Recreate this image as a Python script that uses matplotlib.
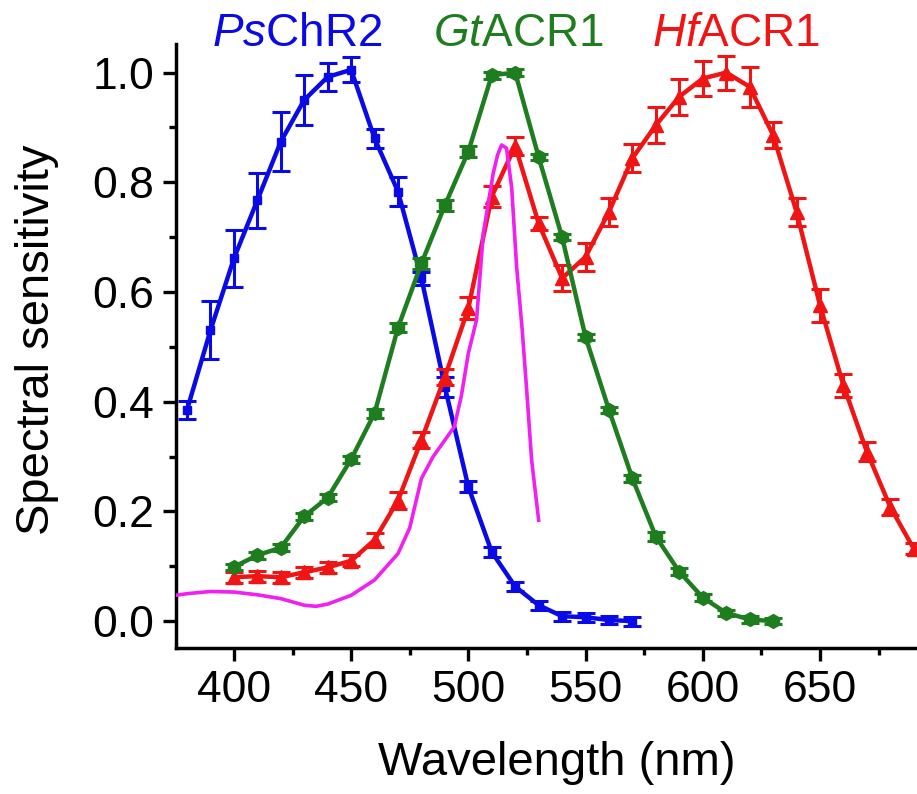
import numpy as np
import matplotlib
matplotlib.use("Agg")
import matplotlib.pyplot as plt

plt.rcParams['font.family'] = ['Liberation Sans', 'DejaVu Sans']
plt.rcParams['mathtext.fontset'] = 'custom'
plt.rcParams['mathtext.rm'] = 'Liberation Sans'
plt.rcParams['mathtext.it'] = 'Liberation Sans:italic'

# PsChR2 (blue)
ps_wl = [380, 390, 400, 410, 420, 430, 440, 450, 460, 470,
         480, 490, 500, 510, 520, 530, 540, 550, 560, 570]
ps_val = [0.385, 0.53, 0.661, 0.767, 0.874, 0.95, 0.992, 1.005, 0.88, 0.783,
          0.625, 0.427, 0.245, 0.126, 0.063, 0.029, 0.009, 0.007, 0.002, 0.0]
ps_err = [0.016, 0.053, 0.052, 0.05, 0.054, 0.045, 0.026, 0.023, 0.017, 0.027,
          0.012, 0.018, 0.01, 0.01, 0.008, 0.008, 0.008, 0.008, 0.008, 0.008]

# GtACR1 (green)
gt_wl = [400, 410, 420, 430, 440, 450, 460, 470, 480, 490, 500, 510, 520,
         530, 540, 550, 560, 570, 580, 590, 600, 610, 620, 630]
gt_val = [0.099, 0.12, 0.134, 0.191, 0.225, 0.295, 0.379, 0.535, 0.652, 0.758,
          0.856, 0.995, 1.0, 0.846, 0.70, 0.518, 0.385, 0.26, 0.154, 0.09,
          0.043, 0.015, 0.003, 0.0]
gt_err = [0.006, 0.006, 0.006, 0.006, 0.006, 0.006, 0.008, 0.008, 0.01, 0.01,
          0.01, 0.006, 0.006, 0.006, 0.006, 0.006, 0.006, 0.006, 0.008, 0.006,
          0.006, 0.006, 0.006, 0.006]

# HfACR1 (red)
hf_wl = [400, 410, 420, 430, 440, 450, 460, 470, 480, 490, 500, 510, 520,
         530, 540, 550, 560, 570, 580, 590, 600, 610, 620, 630, 640, 650,
         660, 670, 680, 690]
hf_val = [0.08, 0.082, 0.08, 0.089, 0.098, 0.11, 0.148, 0.22, 0.33, 0.445,
          0.57, 0.774, 0.866, 0.725, 0.625, 0.664, 0.746, 0.844, 0.904, 0.956,
          0.989, 1.0, 0.974, 0.886, 0.746, 0.576, 0.43, 0.309, 0.208, 0.132]
hf_err = [0.01, 0.01, 0.01, 0.01, 0.01, 0.01, 0.012, 0.015, 0.015, 0.015,
          0.02, 0.02, 0.016, 0.012, 0.024, 0.026, 0.026, 0.026, 0.033, 0.033,
          0.032, 0.031, 0.036, 0.024, 0.026, 0.03, 0.021, 0.017, 0.014, 0.01]

# magenta spectrum
mg_wl = [375, 380, 390, 400, 410, 420, 430, 435, 440, 450, 460, 470, 475,
         480, 485, 490, 494, 497, 500, 503.5, 506.4, 510.6, 512.5, 514.2,
         516.3, 518.5, 520.6, 523, 524.8, 527, 530]
mg_val = [0.047, 0.05, 0.054, 0.053, 0.048, 0.041, 0.029, 0.027, 0.031, 0.047,
          0.075, 0.123, 0.17, 0.26, 0.30, 0.33, 0.354, 0.41, 0.488, 0.549,
          0.707, 0.816, 0.85, 0.868, 0.862, 0.79, 0.646, 0.53, 0.427, 0.294,
          0.184]

blue = '#0a0ae6'
green = '#1e7d1e'
red = '#f01414'
magenta = '#f020f0'

fig = plt.figure(figsize=(9.17, 7.94), dpi=100)
ax = fig.add_axes([176 / 917, 1 - 648 / 794, 1 - 176 / 917, (648 - 44) / 794])

eb = dict(lw=3.2, elinewidth=2.2, capsize=6.5, capthick=2.2)
ax.errorbar(ps_wl, ps_val, yerr=ps_err, color=blue, marker='s', ms=6, zorder=2, **eb)
ax.errorbar(hf_wl, hf_val, yerr=hf_err, color=red, marker='^', ms=10, zorder=3, **eb)
ax.errorbar(gt_wl, gt_val, yerr=gt_err, color=green, marker='h', ms=10, zorder=4, **eb)
ax.plot(mg_wl, mg_val, color=magenta, lw=2.6, zorder=5)

ax.set_xlim(375.3, 691.4)
ax.set_ylim(-0.049, 1.052)
ax.set_xticks([400, 450, 500, 550, 600, 650])
ax.set_xticks(np.arange(425, 700, 50), minor=True)
ax.set_yticks([0.0, 0.2, 0.4, 0.6, 0.8, 1.0])
ax.set_yticks([0.1, 0.3, 0.5, 0.7, 0.9], minor=True)
ax.yaxis.set_major_formatter(matplotlib.ticker.FormatStrFormatter('%.1f'))

for s in ['top', 'right']:
    ax.spines[s].set_visible(False)
for s in ['left', 'bottom']:
    ax.spines[s].set_linewidth(2.5)
ax.tick_params(which='major', direction='out', length=9.5, width=2.4,
               labelsize=32, pad=6)
ax.tick_params(which='minor', direction='out', length=5, width=2.4)

fig.text(37 / 917, 1 - 340 / 794, 'Spectral sensitivity', rotation=90,
         ha='center', va='center', fontsize=34)
fig.text(557 / 917, 1 - 775 / 794, 'Wavelength (nm)', ha='center',
         va='baseline', fontsize=34)

ty = 1 - 46 / 794
fig.text(297 / 917, ty, r'$\mathit{Ps}$ChR2', color=blue, ha='center',
         va='baseline', fontsize=33)
fig.text(518 / 917, ty, r'$\mathit{Gt}$ACR1', color=green, ha='center',
         va='baseline', fontsize=33)
fig.text(736 / 917, ty, r'$\mathit{Hf}$ACR1', color=red, ha='center',
         va='baseline', fontsize=33)

fig.savefig('out.png', dpi=100)
